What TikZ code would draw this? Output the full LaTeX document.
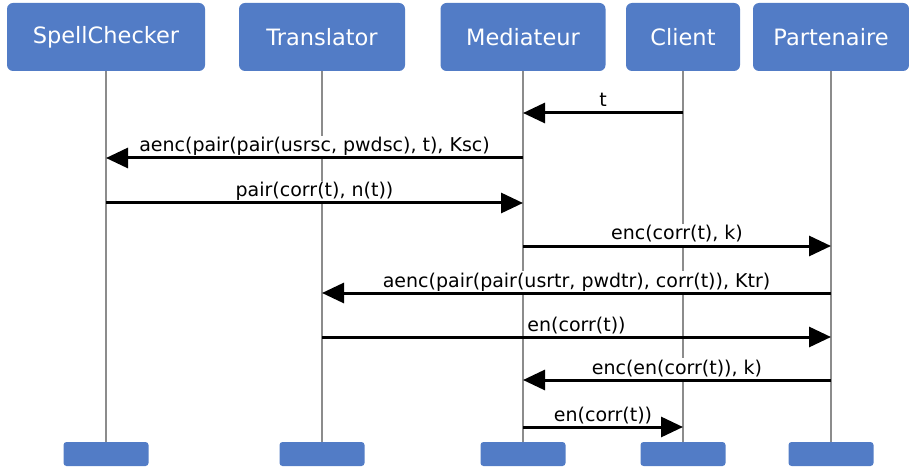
\documentclass[tikz,border=0pt]{standalone}
\usepackage{fontspec}
\setmainfont{DejaVu Sans}
\usetikzlibrary{arrows.meta,positioning}
\definecolor{boxblue}{RGB}{82,124,198}
\definecolor{lifegray}{RGB}{140,140,140}

\begin{document}
\begin{tikzpicture}[x=1pt, y=-1pt, >={Triangle[length=22pt,width=20pt]},
	actor/.style={rectangle, rounded corners=6pt, fill=boxblue, text=white, minimum height=68pt, inner sep=0pt, font=\fontsize{22.5}{27}\selectfont},
	foot/.style={rectangle, rounded corners=3pt, fill=boxblue, minimum width=85pt, minimum height=24pt, inner sep=0pt},
	life/.style={draw=lifegray, line width=2pt},
	msg/.style={->, line width=3pt},
	lbl/.style={behind path, fill=white, inner sep=2pt, text depth=4pt, anchor=base, yshift=6pt, font=\fontsize{19}{22}\selectfont}]
	\useasboundingbox (0,0) rectangle (909,470);

	\node[actor, minimum width=198pt] (sc)  at (106,37) {SpellChecker};
	\node[actor, minimum width=166pt] (tr)  at (322,37) {Translator};
	\node[actor, minimum width=165pt] (med) at (523,37) {Mediateur};
	\node[actor, minimum width=114pt] (cl)  at (683,37) {Client};
	\node[actor, minimum width=156pt] (par) at (831,37) {Partenaire};

	\node[foot] (sc-end)  at (106,454) {};
	\node[foot] (tr-end)  at (322,454) {};
	\node[foot] (med-end) at (523,454) {};
	\node[foot] (cl-end)  at (683,454) {};
	\node[foot] (par-end) at (831,454) {};

	\foreach \a in {sc,tr,med,cl,par}
		\draw[life] (\a) -- (\a-end);

	\coordinate (r1) at (0,113);
	\coordinate (r2) at (0,158);
	\coordinate (r3) at (0,203);
	\coordinate (r4) at (0,246);
	\coordinate (r5) at (0,293);
	\coordinate (r6) at (0,337);
	\coordinate (r7) at (0,380);
	\coordinate (r8) at (0,427);

	\draw[msg] (cl |- r1)  -- node[lbl] {t} (med |- r1);
	\draw[msg] (med |- r2) -- node[lbl] {aenc(pair(pair(usrsc, pwdsc), t), Ksc)} (sc |- r2);
	\draw[msg] (sc |- r3)  -- node[lbl] {pair(corr(t), n(t))} (med |- r3);
	\draw[msg] (med |- r4) -- node[lbl] {enc(corr(t), k)} (par |- r4);
	\draw[msg] (par |- r5) -- node[lbl] {aenc(pair(pair(usrtr, pwdtr), corr(t)), Ktr)} (tr |- r5);
	\draw[msg] (tr |- r6)  -- node[lbl] {en(corr(t))} (par |- r6);
	\draw[msg] (par |- r7) -- node[lbl] {enc(en(corr(t)), k)} (med |- r7);
	\draw[msg] (med |- r8) -- node[lbl] {en(corr(t))} (cl |- r8);
\end{tikzpicture}
\end{document}
